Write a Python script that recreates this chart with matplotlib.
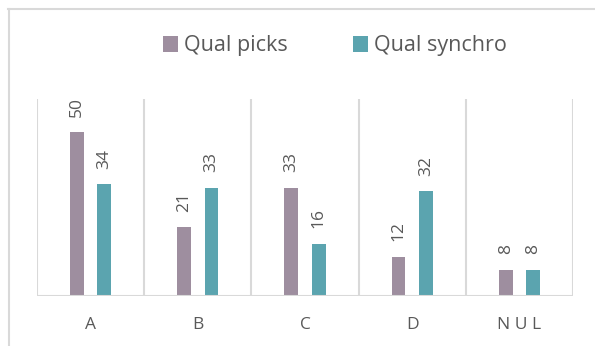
import matplotlib
matplotlib.use("Agg")
import matplotlib.pyplot as plt
from matplotlib.lines import Line2D
import numpy as np

categories = ["A", "B", "C", "D", "N U L"]
qual_picks = [50, 21, 33, 12, 8]
qual_synchro = [34, 33, 16, 32, 8]
series_names = ["Qual picks", "Qual synchro"]

purple = "#9E8E9F"
teal = "#5BA4AF"
grid = "#D9D9D9"
txt = "#595959"

plt.rcParams['font.family'] = ['Open Sans', 'DejaVu Sans']

fig = plt.figure(figsize=(5.95, 3.46), dpi=100)
ax = fig.add_axes([37/595, 1-296/346, (573-37)/595, (296-99.2)/346])

x = np.arange(len(categories))
w = 0.13
off = 0.128
b1 = ax.bar(x - off, qual_picks, w, color=purple, label=series_names[0])
b2 = ax.bar(x + off, qual_synchro, w, color=teal, label=series_names[1])

for bars, vals in ((b1, qual_picks), (b2, qual_synchro)):
    for r, v in zip(bars, vals):
        ax.annotate(str(v), (r.get_x() + r.get_width()/2, r.get_height()),
                    xytext=(0, 11), textcoords="offset points",
                    rotation=90, ha="center", va="bottom",
                    fontsize=12.5, color=txt)

ax.set_xlim(-0.5, len(categories) - 0.5)
ax.set_ylim(0, 60)
for b in np.arange(-0.5, len(categories), 1.0):
    ax.axvline(b, color=grid, lw=1.5, zorder=0)
for s in ax.spines.values():
    s.set_visible(False)
ax.axhline(0, color=grid, lw=1.5, zorder=3)
ax.set_yticks([])
ax.set_xticks(x)
ax.set_xticklabels(categories, fontsize=12.5, color=txt)
ax.tick_params(axis="x", length=0, pad=15)

leg = fig.legend(handles=[b1, b2], loc="center", bbox_to_anchor=(335/595, 1-46/346),
                 ncol=2, frameon=False, fontsize=15.5, labelcolor=txt,
                 handlelength=0.7, handleheight=0.7, handletextpad=0.3,
                 columnspacing=3.0)

fig.add_artist(Line2D([8/595, 1.0], [1-8.5/346, 1-8.5/346], transform=fig.transFigure,
                      color=grid, lw=1.5))
fig.add_artist(Line2D([8.5/595, 8.5/595], [0, 1-8.5/346], transform=fig.transFigure,
                      color=grid, lw=1.5))

fig.savefig("out.png", dpi=100, facecolor="white")
